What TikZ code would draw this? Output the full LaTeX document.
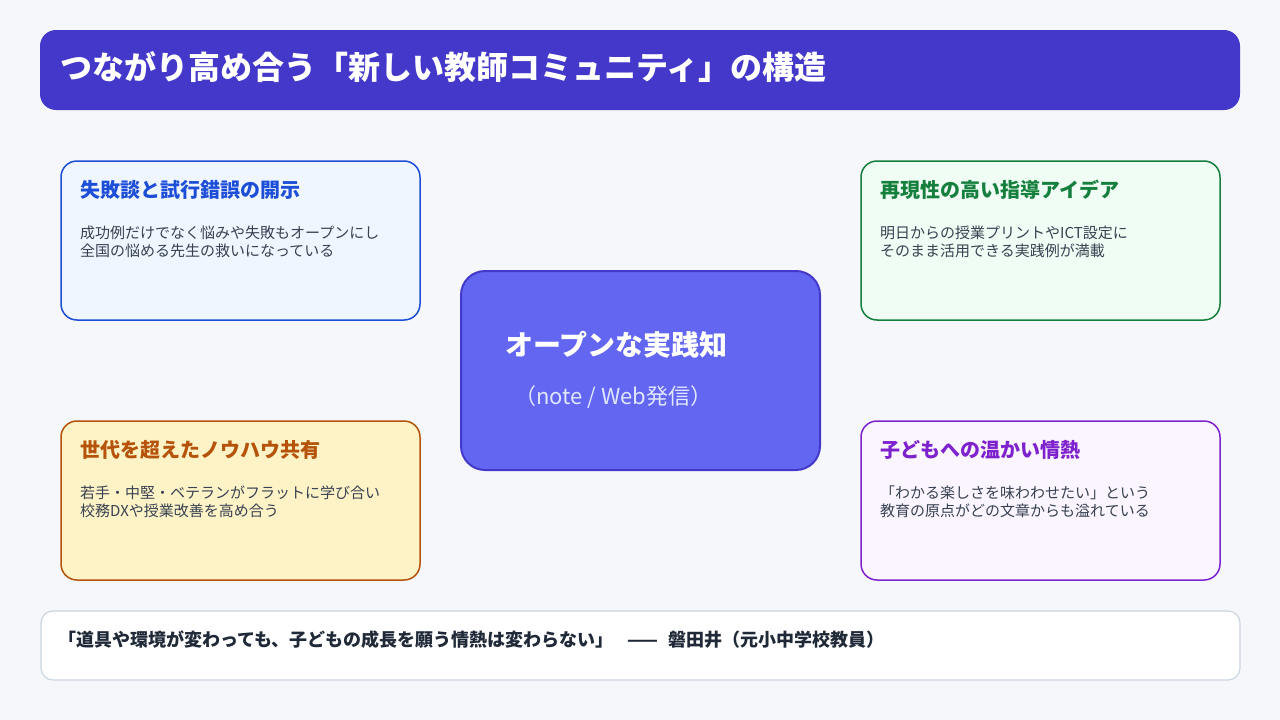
\documentclass[tikz,border=0pt]{standalone}
\usepackage{fontspec}
\setmainfont{Noto Sans CJK JP}
\definecolor{pagebg}{HTML}{F5F7FB}
\definecolor{indigodark}{HTML}{4338CA}
\definecolor{indigomid}{HTML}{6366F1}
\definecolor{indigolight}{HTML}{E0E7FF}
\definecolor{bluefill}{HTML}{EFF6FF}
\definecolor{blueline}{HTML}{1D4ED8}
\definecolor{greenfill}{HTML}{F0FDF4}
\definecolor{greenline}{HTML}{15803D}
\definecolor{amberfill}{HTML}{FEF3C7}
\definecolor{amberline}{HTML}{B45309}
\definecolor{purplefill}{HTML}{FAF5FF}
\definecolor{purpleline}{HTML}{7E22CE}
\definecolor{bodygray}{HTML}{374151}
\definecolor{quotegray}{HTML}{1F2937}
\definecolor{quoteline}{HTML}{CBD5E1}

\begin{document}
\begin{tikzpicture}[x=1pt,y=-1pt,line cap=round,line join=round,
  card/.style={draw,line width=1.5pt,rounded corners=16pt,minimum width=359pt,minimum height=159pt,inner sep=0pt},
  cardtitle/.style={anchor=west,inner sep=0pt,font=\fontsize{20}{24}\selectfont\bfseries},
  cardtext/.style={anchor=west,inner sep=0pt,align=left,text=bodygray,font=\fontsize{15}{18}\selectfont}]
  \useasboundingbox (0,0) rectangle (1280,720);
  \fill[pagebg] (0,0) rectangle (1280,720);

  % Title bar
  \node[fill=indigodark,rounded corners=16pt,minimum width=1200pt,minimum height=80pt,inner sep=0pt] (titlebar) at (640,70) {};
  \node[anchor=west,inner sep=0pt,text=white,font=\fontsize{32}{36}\selectfont\bfseries] (titletext) at (60,67) {つながり高め合う「新しい教師コミュニティ」の構造};

  % Cards
  \node[card,fill=bluefill,draw=blueline] (failcard) at (240.5,240.5) {};
  \node[cardtitle,text=blueline] (failtitle) at (80,190) {失敗談と試行錯誤の開示};
  \node[cardtext] (failtext) at (80,242) {成功例だけでなく悩みや失敗もオープンにし\\全国の悩める先生の救いになっている};

  \node[card,fill=greenfill,draw=greenline] (ideacard) at (1040.5,240.5) {};
  \node[cardtitle,text=greenline] (ideatitle) at (880,190) {再現性の高い指導アイデア};
  \node[cardtext] (ideatext) at (880,242) {明日からの授業プリントやICT設定に\\そのまま活用できる実践例が満載};

  \node[card,fill=amberfill,draw=amberline] (gencard) at (240.5,500.5) {};
  \node[cardtitle,text=amberline] (gentitle) at (80,450) {世代を超えたノウハウ共有};
  \node[cardtext] (gentext) at (80,502) {若手・中堅・ベテランがフラットに学び合い\\校務DXや授業改善を高め合う};

  \node[card,fill=purplefill,draw=purpleline] (lovecard) at (1040.5,500.5) {};
  \node[cardtitle,text=purpleline] (lovetitle) at (880,450) {子どもへの温かい情熱};
  \node[cardtext] (lovetext) at (880,502) {「わかる楽しさを味わわせたい」という\\教育の原点がどの文章からも溢れている};

  % Centre
  \node[fill=indigomid,draw=indigodark,line width=2pt,rounded corners=24pt,minimum width=359pt,minimum height=199pt,inner sep=0pt] (hub) at (640.5,370.5) {};
  \node[anchor=west,inner sep=0pt,text=white,font=\fontsize{28}{32}\selectfont\bfseries] (hubtitle) at (505,345) {オープンな実践知};
  \node[anchor=west,inner sep=0pt,text=indigolight,font=\fontsize{22}{26}\selectfont] (hubsub) at (514,397) {（note / Web発信）};

  % Quote
  \node[fill=white,draw=quoteline,line width=1.2pt,rounded corners=12pt,minimum width=1199pt,minimum height=69pt,inner sep=0pt] (quotebox) at (640.5,645.5) {};
  \node[anchor=west,inner sep=0pt,text=quotegray,font=\fontsize{18}{22}\selectfont\bfseries] (quotetext) at (58,640) {「道具や環境が変わっても、子どもの成長を願う情熱は変わらない」\hspace{14pt}——\hspace{10pt}磐田井（元小中学校教員）};
\end{tikzpicture}
\end{document}
